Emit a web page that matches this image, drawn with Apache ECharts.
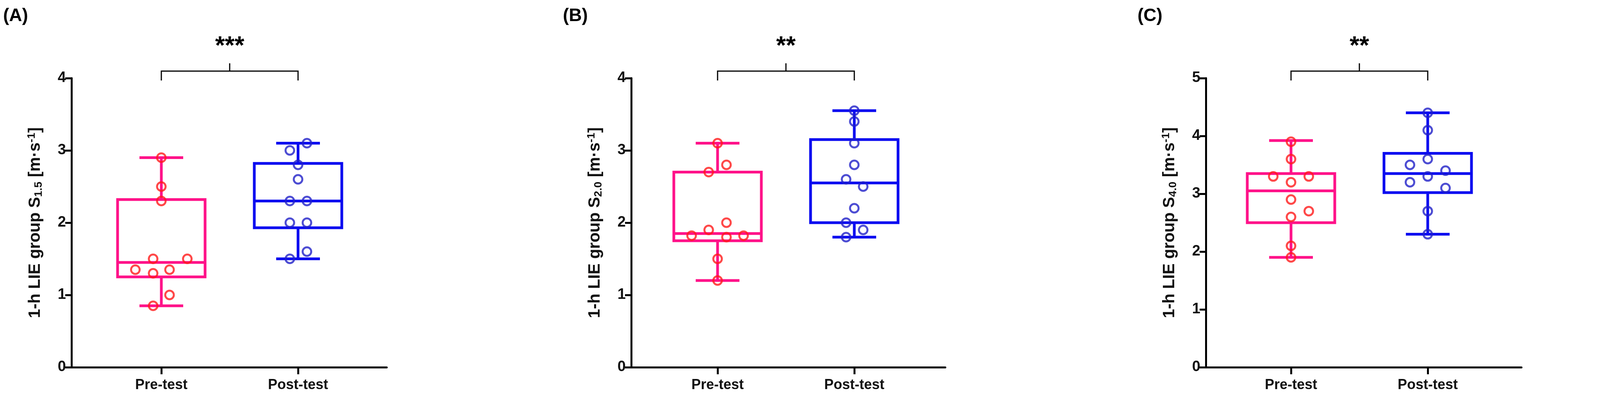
<!DOCTYPE html>
<html>
<head>
<meta charset="utf-8">
<script src="https://cdn.jsdelivr.net/npm/echarts@6/dist/echarts.min.js"></script>
<style>html,body{margin:0;background:#fff}#c{width:4277px;height:1052px}</style>
</head>
<body>
<div id="c"></div>
<script>
// box stats: [x, min, q1, median, q3, max]
let boxA = [[1, 0.85, 1.25, 1.45, 2.32, 2.9], [2, 1.5, 1.93, 2.3, 2.82, 3.1]];
let boxB = [[1, 1.2, 1.75, 1.85, 2.7, 3.1], [2, 1.8, 2.0, 2.55, 3.15, 3.55]];
let boxC = [[1, 1.9, 2.5, 3.05, 3.35, 3.92], [2, 2.3, 3.02, 3.35, 3.7, 4.4]];
// points: [x, value]
let preA = [[1, 2.9], [1, 2.5], [1, 2.3], [0.94, 1.5], [1.19, 1.5], [0.81, 1.35], [0.94, 1.3], [1.06, 1.35], [1.06, 1.0], [0.94, 0.85]];
let postA = [[2.065, 3.1], [1.94, 3.0], [2, 2.8], [2, 2.6], [1.94, 2.3], [2.065, 2.3], [1.94, 2.0], [2.065, 2.0], [2.065, 1.6], [1.94, 1.5]];
let preB = [[1, 3.1], [1.065, 2.8], [0.935, 2.7], [1.065, 2.0], [0.935, 1.9], [0.81, 1.82], [1.065, 1.8], [1.19, 1.82], [1, 1.5], [1, 1.2]];
let postB = [[2, 3.55], [2, 3.4], [2, 3.1], [2, 2.8], [1.94, 2.6], [2.065, 2.5], [2, 2.2], [1.94, 2.0], [2.065, 1.9], [1.94, 1.8]];
let preC = [[1, 3.9], [1, 3.6], [0.87, 3.3], [1.13, 3.3], [1, 3.2], [1, 2.9], [1.13, 2.7], [1, 2.6], [1, 2.1], [1, 1.9]];
let postC = [[2, 4.4], [2, 4.1], [2, 3.6], [1.87, 3.5], [2.13, 3.4], [2, 3.3], [1.87, 3.2], [2.13, 3.1], [2, 2.7], [2, 2.3]];
let categories = ['Pre-test', 'Post-test'];
let stars = ['***', '**', '**'];
let panelLabels = ['(A)', '(B)', '(C)'];
let subs = ['1.5', '2.0', '4.0'];
let yMax = [4, 4, 5];

let chart = echarts.init(document.getElementById('c'));
let panels = [
    { left: 183, width: 807, pre: 230, boxes: boxA, pts: [preA, postA] },
    { left: 1616, width: 804, pre: 221, boxes: boxB, pts: [preB, postB] },
    { left: 3087, width: 808, pre: 218, boxes: boxC, pts: [preC, postC] }
];
let unit = 350;
let boxColors = ['#ff1289', '#0a0af0'];
let ptColors = ['#ff1a1a', '#2020c8'];
let font = 'Liberation Sans';
let grid = [], xAxis = [], yAxis = [], series = [], graphic = [];

panels.forEach(function (p, i) {
    let xmin = 1 - p.pre / unit;
    grid.push({ left: p.left, top: 200, width: p.width, height: 740 });
    xAxis.push({
        type: 'value', gridIndex: i, min: xmin, max: xmin + p.width / unit,
        splitLine: { show: false },
        axisLine: { onZero: false, lineStyle: { color: '#000', width: 5 } },
        axisTick: { customValues: [1, 2], length: 18, lineStyle: { color: '#000', width: 5 } },
        axisLabel: {
            customValues: [1, 2], margin: 28, color: '#111', fontSize: 36, fontWeight: 'bold',
            fontFamily: font, formatter: function (v) { return categories[Math.round(v) - 1]; }
        }
    });
    yAxis.push({
        type: 'value', gridIndex: i, min: 0, max: yMax[i], interval: 1,
        splitLine: { show: false },
        axisLine: { show: true, lineStyle: { color: '#000', width: 5 } },
        axisTick: { show: true, length: 16, lineStyle: { color: '#000', width: 5 } },
        axisLabel: { color: '#111', fontSize: 38, fontWeight: 'bold', fontFamily: font, margin: 14 },
        name: '{t|1-h LIE group S}{s|' + subs[i] + '}{t| [m·s}{u|-1}{t|]}',
        nameLocation: 'middle', nameGap: 70, nameRotate: 90,
        nameTextStyle: {
            rich: {
                t: { fontSize: 42, fontWeight: 'bold', fontFamily: font, color: '#111' },
                s: { fontSize: 28, fontWeight: 'bold', fontFamily: font, color: '#111', verticalAlign: 'bottom', padding: [18, 0, 0, 0] },
                u: { fontSize: 28, fontWeight: 'bold', fontFamily: font, color: '#111', verticalAlign: 'top', padding: [0, 0, 18, 0] }
            }
        }
    });
    series.push({
        type: 'custom', xAxisIndex: i, yAxisIndex: i, data: p.boxes, z: 2,
        renderItem: function (params, api) {
            let c = boxColors[params.dataIndex];
            let x = api.value(0);
            let pt = function (dx, v) { return api.coord([x + dx, v]); };
            let st = { stroke: c, lineWidth: 7, fill: null };
            let hw = 0.32, cw = 0.16;
            let mk = function (a, b) { return { type: 'line', shape: { x1: a[0], y1: a[1], x2: b[0], y2: b[1] }, style: st }; };
            let q1 = pt(-hw, api.value(2)), q3 = pt(hw, api.value(4));
            return {
                type: 'group', children: [
                    mk(pt(0, api.value(1)), pt(0, api.value(2))),
                    mk(pt(0, api.value(4)), pt(0, api.value(5))),
                    mk(pt(-cw, api.value(1)), pt(cw, api.value(1))),
                    mk(pt(-cw, api.value(5)), pt(cw, api.value(5))),
                    mk(pt(-hw, api.value(3)), pt(hw, api.value(3))),
                    { type: 'rect', shape: { x: q1[0], y: q3[1], width: q3[0] - q1[0], height: q1[1] - q3[1] }, style: st }
                ]
            };
        }
    });
    p.pts.forEach(function (d, k) {
        series.push({
            type: 'scatter', xAxisIndex: i, yAxisIndex: i, data: d, z: 3,
            symbol: 'circle', symbolSize: 22,
            itemStyle: { color: 'rgba(255,255,255,0)', borderColor: ptColors[k], borderWidth: 5 }
        });
    });
    // significance bracket
    series.push({
        type: 'custom', xAxisIndex: i, yAxisIndex: i, data: [[1, 2]], clip: false, silent: true,
        renderItem: function (params, api) {
            let a = api.coord([1, yMax[i]]), b = api.coord([2, yMax[i]]);
            let yb = a[1] - 18, yl = a[1] + 6, mx = (a[0] + b[0]) / 2;
            let st = { stroke: '#000', lineWidth: 3, fill: null };
            return {
                type: 'group', children: [
                    { type: 'polyline', shape: { points: [[a[0], yl], [a[0], yb], [b[0], yb], [b[0], yl]] }, style: st },
                    { type: 'line', shape: { x1: mx, y1: yb, x2: mx, y2: yb - 20 }, style: st },
                    { type: 'text', style: { text: stars[i], x: mx, y: yb - 30, fill: '#000', fontSize: 64, fontWeight: 'bold', fontFamily: font, align: 'center', verticalAlign: 'bottom' } }
                ]
            };
        }
    });
    graphic.push({
        type: 'text', left: p.left - 175, top: 18,
        style: { text: panelLabels[i], fill: '#000', fontSize: 46, fontWeight: 'bold', fontFamily: font }
    });
});

chart.setOption({ animation: false, grid: grid, xAxis: xAxis, yAxis: yAxis, series: series, graphic: graphic });
</script>
</body>
</html>
